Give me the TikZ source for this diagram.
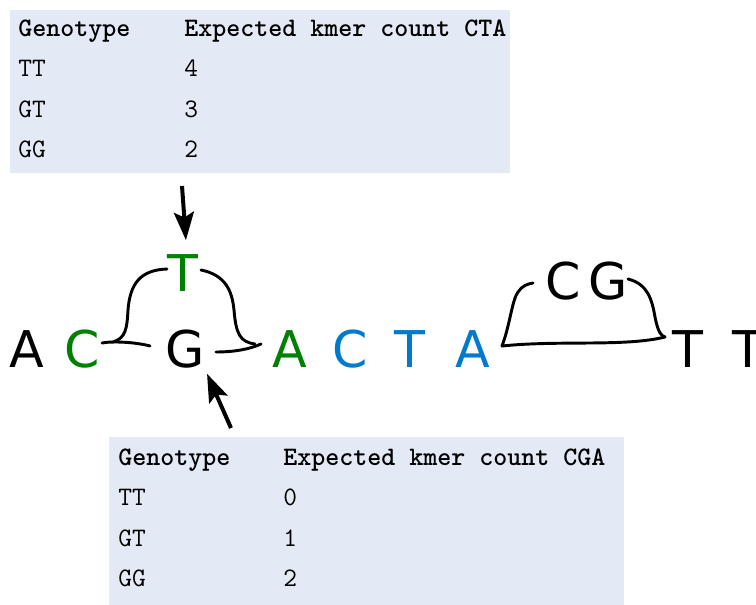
\documentclass[tikz,border=0pt]{standalone}
\usepackage{fontspec}
\usetikzlibrary{arrows.meta}
\newfontfamily\nucfont{DejaVu Sans}
\definecolor{snpgreen}{RGB}{0,128,0}
\definecolor{kmerblue}{RGB}{0,122,204}
\definecolor{tabbg}{RGB}{228,234,245}
\tikzset{
  nuc/.style={font=\nucfont\fontsize{38}{38}\selectfont, anchor=base, inner sep=0pt},
  tabcell/.style={font=\ttfamily\fontsize{20}{20}\selectfont, anchor=base west, inner sep=0pt},
  headcell/.style={tabcell, font=\ttfamily\bfseries\fontsize{20}{20}\selectfont},
  pointer/.style={line width=3pt, -{Stealth[length=21pt,width=15pt,inset=4pt]}},
  bracket/.style={line width=2.2pt, line cap=round}
}

\begin{document}
\begin{tikzpicture}[x=0.75pt,y=-0.75pt]
\useasboundingbox (0,0) rectangle (756,605);
%
% table for kmer CTA
\fill[tabbg] (10,10) rectangle (510,173);
\node[headcell] (ctaGeno) at (18,37) {Genotype};
\node[headcell] (ctaHead) at (184,37) {Expected kmer count CTA};
\node[tabcell] (ctaTT) at (18,77) {TT};
\node[tabcell] (ctaTTn) at (184,77) {4};
\node[tabcell] (ctaGT) at (18,118) {GT};
\node[tabcell] (ctaGTn) at (184,118) {3};
\node[tabcell] (ctaGG) at (18,158) {GG};
\node[tabcell] (ctaGGn) at (184,158) {2};
%
% table for kmer CGA
\fill[tabbg] (109,437) rectangle (624,605);
\node[headcell] (cgaGeno) at (118,465) {Genotype};
\node[headcell] (cgaHead) at (283,465) {Expected kmer count CGA};
\node[tabcell] (cgaTT) at (118,505) {TT};
\node[tabcell] (cgaTTn) at (283,505) {0};
\node[tabcell] (cgaGT) at (118,546) {GT};
\node[tabcell] (cgaGTn) at (283,546) {1};
\node[tabcell] (cgaGG) at (118,586) {GG};
\node[tabcell] (cgaGGn) at (283,586) {2};
%
% the sequence
\node[nuc] (A1) at (27,368) {A};
\node[nuc, snpgreen] (C1) at (82,368) {C};
\node[nuc] (Gmid) at (185,368) {G};
\node[nuc, snpgreen] (Tup) at (183,292) {T};
\node[nuc, snpgreen] (A2) at (290,368) {A};
\node[nuc, kmerblue] (C2) at (350,368) {C};
\node[nuc, kmerblue] (T2) at (410,368) {T};
\node[nuc, kmerblue] (A3) at (473,368) {A};
\node[nuc] (Cins) at (563,300) {C};
\node[nuc] (Gins) at (608,300) {G};
\node[nuc] (T3) at (688,368) {T};
\node[nuc] (T4) at (748,368) {T};
%
% bubble around the SNP
\draw[bracket] (102,343) .. controls (112,341) and (135,342) .. (150,346);
\draw[bracket] (113,342) .. controls (126,338) and (127,328) .. (128,310)
  .. controls (130,284) and (140,270) .. (167,269);
\draw[bracket] (201,270) .. controls (225,275) and (232,290) .. (234,310)
  .. controls (236,334) and (240,342) .. (255,344);
\draw[bracket] (216,352) .. controls (235,352) and (250,349) .. (261,344);
%
% bubble around the insertion
\draw[bracket] (502,346) .. controls (560,340) and (625,347) .. (665,337);
\draw[bracket] (502,346) .. controls (510,325) and (512,300) .. (518,292)
  .. controls (522,286) and (527,284) .. (533,283);
\draw[bracket] (628,279) .. controls (648,284) and (652,300) .. (655,317)
  .. controls (658,332) and (661,336) .. (665,337);
%
% pointers from the tables
\coordinate (ctaFrom) at (182,186);
\coordinate (cgaFrom) at (231,428);
\draw[pointer, shorten >=11pt] (ctaFrom) -- ([xshift=3pt]Tup.north);
\draw[pointer, shorten >=4pt] (cgaFrom) -- (Gmid.south east);
\end{tikzpicture}
\end{document}
